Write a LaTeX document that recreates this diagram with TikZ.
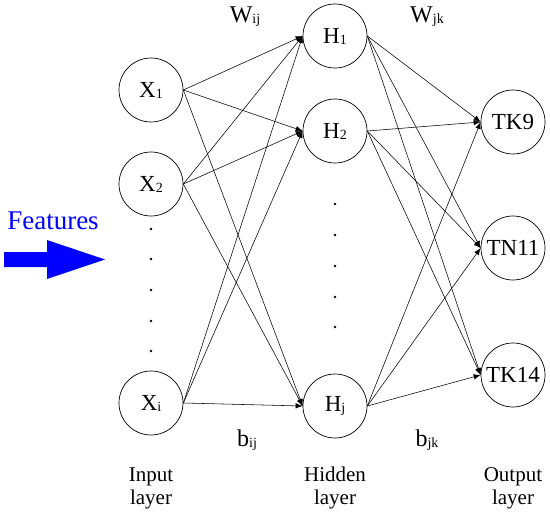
\documentclass[tikz,border=0pt]{standalone}
\usepackage{fontspec}
\setmainfont{Liberation Serif}
\usepackage{tikz}
\usetikzlibrary{arrows.meta,positioning}
\definecolor{fblue}{HTML}{0000FF}
\newcommand{\nsub}[1]{\raisebox{-0.1ex}{\fontsize{14}{14}\selectfont #1}}
\tikzset{
  neuron/.style  = {draw, line width=0.7pt, circle, inner sep=0pt,
                    minimum size=64pt, font=\fontsize{23}{23}\selectfont},
  conn/.style    = {-{Latex[length=7pt,width=5.5pt]}, line width=0.55pt},
  wlabel/.style  = {font=\fontsize{24}{24}\selectfont},
  layerlab/.style= {align=center, font=\fontsize{21}{23}\selectfont},
  vdot/.style    = {fill, circle, inner sep=0pt, minimum size=2.8pt},
}
\begin{document}
\begin{tikzpicture}[x=1pt,y=-1pt]
\useasboundingbox (0,0) rectangle (550,519);
\node[neuron] (x1) at (151,90)  {X\nsub{1}};
\node[neuron] (x2) at (151,184) {X\nsub{2}};
\node[neuron] (xi) at (151,403) {X\nsub{i}};
\node[neuron] (h1) at (335,36)  {H\nsub{1}};
\node[neuron] (h2) at (335,131) {H\nsub{2}};
\node[neuron] (hj) at (335,406) {H\nsub{j}};
\node[neuron] (tk9)  at (513,122) {TK9};
\node[neuron] (tn11) at (513,248) {TN11};
\node[neuron] (tk14) at (513,375) {TK14};
\foreach \y in {229,259,290,321,351}
  \node[vdot] at (151,\y) {};
\foreach \y in {204,235,266,297,327}
  \node[vdot] at (335,\y) {};
\foreach \a in {x1,x2,xi}
  \foreach \b in {h1,h2,hj}
    \draw[conn] (\a.east) -- (\b.west);
\foreach \a in {h1,h2,hj}
  \foreach \b in {tk9,tn11,tk14}
    \draw[conn] (\a.east) -- (\b.west);
\node[wlabel] (wij) at (245,17)  {W\nsub{ij}};
\node[wlabel] (wjk) at (427,17)  {W\nsub{jk}};
\node[wlabel] (bij) at (247,440) {b\nsub{ij}};
\node[wlabel] (bjk) at (427,440) {b\nsub{jk}};
\node[layerlab] (inlab)  at (151,488) {Input\\layer};
\node[layerlab] (hidlab) at (335,488) {Hidden\\layer};
\node[layerlab] (outlab) at (513,488) {Output\\layer};
\node[fblue, font=\fontsize{27}{27}\selectfont] (feat) at (53,221) {Features};
\fill[fblue] (4,252) -- (47,252) -- (47,240) -- (105,259.5)
  -- (47,279) -- (47,267) -- (4,267) -- cycle;
\end{tikzpicture}
\end{document}
